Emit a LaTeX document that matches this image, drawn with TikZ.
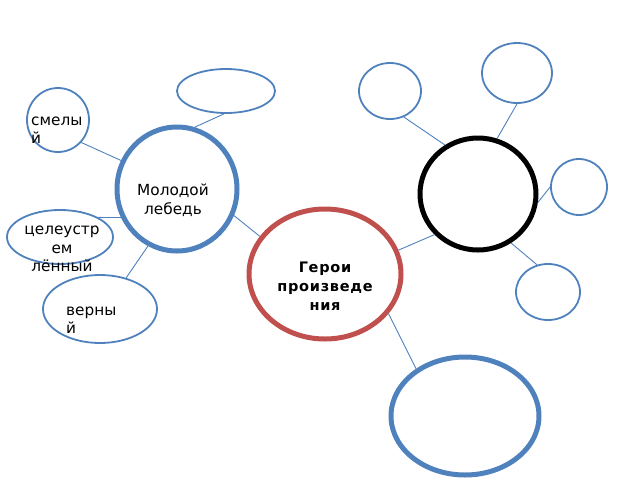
\documentclass[tikz,border=0pt]{standalone}
\usepackage{fontspec}
\setmainfont{DejaVu Sans}
\newfontfamily\herofont[LetterSpace=5]{DejaVu Sans}
\usetikzlibrary{shapes.geometric}
\definecolor{ablue}{HTML}{4F81BD}
\definecolor{ared}{HTML}{C0504D}
\begin{document}
\begin{tikzpicture}[x=1pt,y=-1pt,
  smallbox/.style={ellipse, draw=ablue, line width=1.8pt, inner sep=0pt},
  bigbox/.style={ellipse, line width=5pt, inner sep=0pt},
  link/.style={draw=ablue, line width=0.9pt},
  lbl/.style={font=\fontsize{15.3}{18.5}\selectfont, inner sep=0pt},
  herolbl/.style={font=\herofont\bfseries\fontsize{14.5}{19}\selectfont, inner sep=0pt, align=center}]
\useasboundingbox (0,0) rectangle (640,480);
% shapes
\node[smallbox, minimum width=62pt, minimum height=64pt] (smel) at (58,120) {};
\node[smallbox, minimum width=98pt, minimum height=44pt] (top) at (226,91) {};
\node[bigbox, draw=ablue, minimum width=120pt, minimum height=124pt] (mol) at (177,189) {};
\node[smallbox, minimum width=106pt, minimum height=54pt] (cel) at (60,237) {};
\node[smallbox, minimum width=114pt, minimum height=68pt] (ver) at (100,309) {};
\node[bigbox, draw=ared, minimum width=152pt, minimum height=130pt] (ger) at (325,274) {};
\node[bigbox, draw=black, minimum width=116pt, minimum height=112pt] (blk) at (478,194) {};
\node[smallbox, minimum width=62pt, minimum height=56pt] (c1) at (390,91) {};
\node[smallbox, minimum width=70pt, minimum height=60pt] (c2) at (517,73) {};
\node[smallbox, minimum width=56pt, minimum height=56pt] (c3) at (579,187) {};
\node[smallbox, minimum width=64pt, minimum height=56pt] (c4) at (548,292) {};
\node[bigbox, draw=ablue, minimum width=148pt, minimum height=118pt] (bot) at (465,416) {};
% connectors
\draw[link] (smel.-44) -- (mol.153);
\draw[link] (top.-95) -- (mol.74);
\draw[link] (cel.27) -- (mol.207);
\draw[link] (ver.50) -- (mol.243);
\draw[link] (mol.-25) -- (ger.150);
\draw[link] (ger.18) -- (blk.223);
\draw[link] (c1.-62) -- (blk.124);
\draw[link] (c2.-90) -- (blk.71);
\draw[link] (c3.180) -- (blk.-8);
\draw[link] (c4.112) -- (blk.-56);
\draw[link] (ger.-32) -- (bot.136);
% texts
\node[lbl, anchor=west, align=left] (tsmel) at (31,130) {смелы\\й};
\node[lbl, align=center] (tmol) at (173,200) {Молодой\\лебедь};
\node[lbl, align=center] (tcel) at (62,249) {целеустр\\ем\\лённый};
\node[lbl, anchor=west, align=left] (tver) at (66,320) {верны\\й};
\node[herolbl] (tger) at (325,286) {Герои\\произведе\\ния};
\end{tikzpicture}
\end{document}
